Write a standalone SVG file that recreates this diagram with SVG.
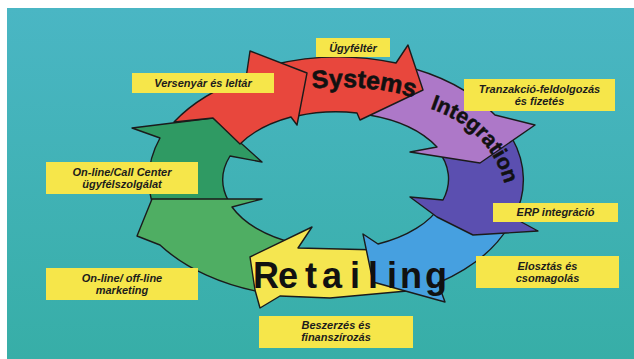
<svg xmlns="http://www.w3.org/2000/svg" width="634" height="359" viewBox="0 0 634 359">
  <defs>
    <linearGradient id="bg" x1="0" y1="0" x2="0" y2="1">
      <stop offset="0" stop-color="#4ab6c4"/>
      <stop offset="1" stop-color="#37aea7"/>
    </linearGradient>
    <!-- baselines for the curved "Systems" / "Integration" lettering -->
    <path id="sysArc" d="M 295.6,91.1 A 156 92 0 0 1 440,108"/>
    <path id="intArc" d="M 428,108 C 470,122 504,150 509,210"/>
  </defs>
  <style>
    .arrow { stroke: #1b1b1b; stroke-width: 1.4; stroke-linejoin: round; }
    .red { fill: #e8473d; }
    .purple { fill: #ad78c8; }
    .navy { fill: #5b4fb0; }
    .sky { fill: #46a0e0; }
    .yellow { fill: #f5e650; }
    .lgreen { fill: #4fae63; }
    .dgreen { fill: #2f9a63; }
    .box rect { fill: #f6e64a; }
    .box text { font-family: "Liberation Sans", Arial, sans-serif; font-size: 11px; font-weight: bold; font-style: italic; fill: #1c1c1c; text-anchor: middle; }
    .word { font-family: "Liberation Sans", Arial, sans-serif; font-weight: bold; fill: #111; }
  </style>

  <!-- page and backdrop -->
  <rect x="0" y="0" width="634" height="359" fill="#ffffff"/>
  <rect x="7" y="8" width="627" height="351" fill="url(#bg)"/>

  <!-- the cycle of curved block arrows, drawn bottom to top -->
  <g id="connectors">
    <path id="arrow-online-service" class="arrow dgreen" d="M 153,205 A 187 122 0 0 1 160,138 L 132,128 L 213,118 L 262,162 L 230,156 A 113 68 0 0 0 228.5,201 Z"/>
    <path id="arrow-marketing" class="arrow lgreen" d="M 266,293 A 187 122 0 0 1 160,245 L 137,236 L 152,199 L 262,199 L 232,207 A 113 68 0 0 0 293.7,243 Z"/>
    <path id="arrow-procurement" class="arrow yellow" d="M 312,227 L 298,248 L 380,250 L 407,291 L 330,298 L 280,296 L 260,308 L 255,290 L 250,257 Z"/>
    <path id="arrow-distribution" class="arrow sky" d="M 509,226 A 187 122 0 0 1 438,283 L 445,302 L 373,282 L 363,234 L 378,244 A 113 68 0 0 0 441,205 Z"/>
    <path id="arrow-erp" class="arrow navy" d="M 512,138 A 187 122 0 0 1 514,218 L 538,231 L 473,235 L 437,217 L 410,197 L 443,200 A 113 68 0 0 0 437,149 Z"/>
    <path id="arrow-transactions" class="arrow purple" d="M 400,65 A 187 122 0 0 1 495,115 L 535,125 L 480,163 L 410,152 L 437,147 A 113 68 0 0 0 369,115 Z"/>
    <path id="arrow-customer-space" class="arrow red" d="M 272,65 A 187 122 0 0 1 396,63 L 408,45 L 423,90 L 360,120 L 357,113 A 113 68 0 0 0 297,116 Z"/>
    <path id="arrow-pricing" class="arrow red" d="M 174,122 A 187 122 0 0 1 246,78 L 250,51 L 307,73 L 297,125 L 291,117 A 113 68 0 0 0 240,144 L 213,118 Z"/>
  </g>

  <!-- lettering across the ring -->
  <g id="ring-titles">
    <text class="word" font-size="25" stroke="#111" stroke-width="0.6"><textPath href="#sysArc" startOffset="17">Systems</textPath></text>
    <text class="word" font-size="21.5" stroke="#111" stroke-width="0.5"><textPath href="#intArc" startOffset="2">Integration</textPath></text>
    <text class="word" font-size="36" x="253 278 305 322 350 368 387 400 425" y="288">Retailing</text>
  </g>

  <!-- activity labels -->
  <g id="lbl-versenyar" class="box">
    <rect x="132" y="73" width="142" height="20"/>
    <text x="203" y="87">Versenyár és leltár</text>
  </g>
  <g id="lbl-ugyfelter" class="box">
    <rect x="316" y="38" width="74" height="19"/>
    <text x="353" y="51.5">Ügyféltér</text>
  </g>
  <g id="lbl-tranzakcio" class="box">
    <rect x="464" y="79" width="151" height="32"/>
    <text x="539.5" y="92.5">Tranzakció-feldolgozás</text>
    <text x="539.5" y="104.5">és fizetés</text>
  </g>
  <g id="lbl-callcenter" class="box">
    <rect x="46" y="162" width="152" height="32"/>
    <text x="122" y="175.5">On-line/Call Center</text>
    <text x="122" y="187.5">ügyfélszolgálat</text>
  </g>
  <g id="lbl-marketing" class="box">
    <rect x="46" y="268" width="152" height="32"/>
    <text x="122" y="281.5">On-line/ off-line</text>
    <text x="122" y="293.5">marketing</text>
  </g>
  <g id="lbl-erp" class="box">
    <rect x="493" y="203" width="125" height="19"/>
    <text x="555.5" y="216">ERP integráció</text>
  </g>
  <g id="lbl-elosztas" class="box">
    <rect x="476" y="256" width="143" height="32"/>
    <text x="547.5" y="269.5">Elosztás és</text>
    <text x="547.5" y="281.5">csomagolás</text>
  </g>
  <g id="lbl-beszerzes" class="box">
    <rect x="259" y="316" width="154" height="32"/>
    <text x="336" y="328.5">Beszerzés és</text>
    <text x="336" y="340.5">finanszírozás</text>
  </g>
</svg>
